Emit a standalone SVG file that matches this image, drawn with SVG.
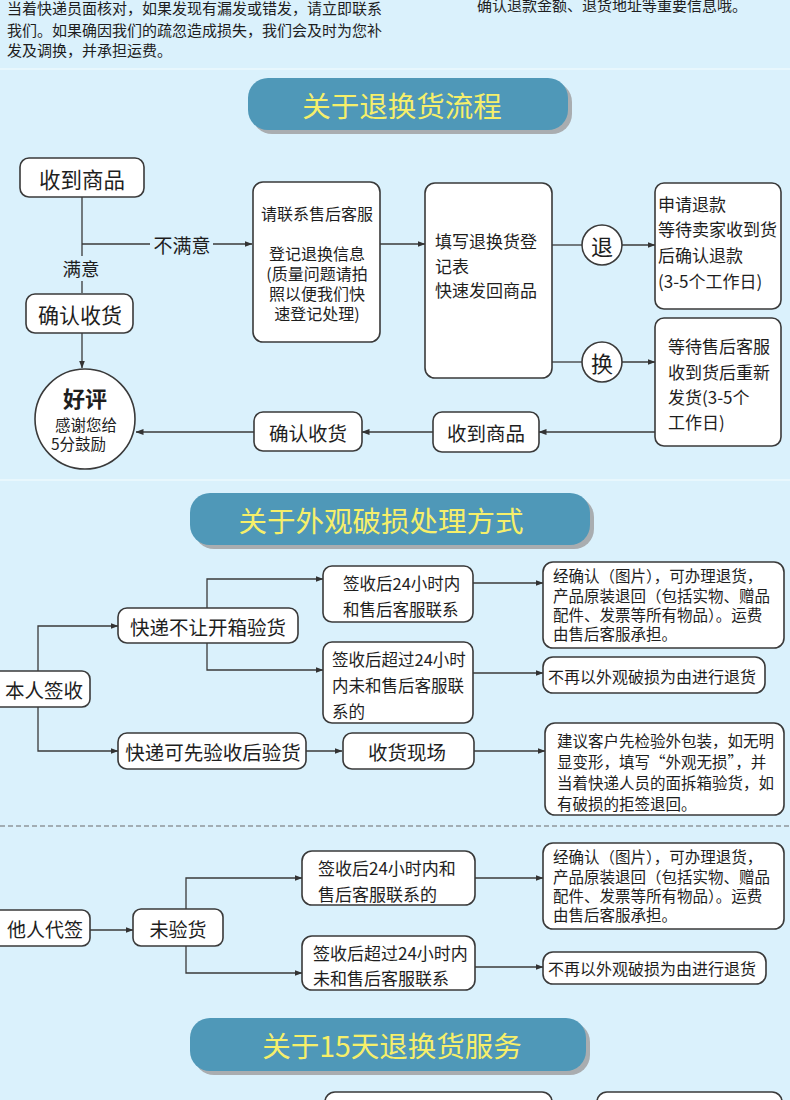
<svg xmlns="http://www.w3.org/2000/svg" width="790" height="1100" viewBox="0 0 790 1100">
<defs>
<marker id="ah" markerUnits="userSpaceOnUse" markerWidth="8" markerHeight="6" refX="7.5" refY="3" orient="auto">
<path d="M0,0 L8,3 L0,6 z" fill="#333"/>
</marker>
</defs>
<style>
.t{font-family:"Noto Sans CJK SC","Noto Sans",sans-serif;fill:#1e1e1e;dominant-baseline:central}
.c{text-anchor:middle}
.box{fill:#fff;stroke:#3a3a3a;stroke-width:1.6}
.ln{fill:none;stroke:#3a3a3a;stroke-width:1.3}
.arr{marker-end:url(#ah)}
.hd{fill:#4f98b8}
.hs{fill:#a9adb0}
.ht{font-family:"Noto Sans CJK SC","Noto Sans",sans-serif;fill:#f6ef6a;font-size:28.5px;text-anchor:middle;dominant-baseline:central}
</style>
<rect x="0" y="0" width="790" height="1100" fill="#daf1fc"/>
<line x1="0" y1="69" x2="790" y2="69" stroke="#e8f7fd" stroke-width="2"/>
<line x1="0" y1="480" x2="790" y2="480" stroke="#e8f7fd" stroke-width="2"/>

<g id="intro" class="t" font-size="15">
<text x="7" y="7">当着快递员面核对，如果发现有漏发或错发，请立即联系</text>
<text x="7" y="29">我们。如果确因我们的疏忽造成损失，我们会及时为您补</text>
<text x="7" y="49">发及调换，并承担运费。</text>
<text x="477" y="4">确认退款金额、退货地址等重要信息哦。</text>
</g>

<g id="header1">
<rect class="hs" x="252" y="82" width="320" height="52" rx="20"/>
<rect class="hd" x="248" y="78" width="320" height="52" rx="20"/>
<text class="ht" x="402" y="104">关于退换货流程</text>
</g>
<g id="header2">
<rect class="hs" x="194" y="497" width="400" height="52" rx="20"/>
<rect class="hd" x="190" y="493" width="400" height="52" rx="20"/>
<text class="ht" x="381" y="519">关于外观破损处理方式</text>
</g>
<g id="header3">
<rect class="hs" x="194" y="1022" width="396" height="53" rx="20"/>
<rect class="hd" x="190" y="1018" width="396" height="53" rx="20"/>
<text class="ht" x="392" y="1044">关于15天退换货服务</text>
</g>

<g id="connectors">
<path class="ln" d="M82 197 V256"/>
<path class="ln" d="M82 281 V293"/>
<path class="ln" d="M82 244 H150"/>
<path class="ln arr" d="M213 244 H252"/>
<path class="ln arr" d="M82 333 V368"/>
<path class="ln arr" d="M380 244 H425"/>
<path class="ln" d="M552 245 H582"/>
<path class="ln arr" d="M622 245 H655"/>
<path class="ln" d="M552 362 H582"/>
<path class="ln arr" d="M622 362 H655"/>
<path class="ln arr" d="M655 432 H539"/>
<path class="ln arr" d="M433 432 H362"/>
<path class="ln arr" d="M254 432 H136"/>

<path class="ln arr" d="M38 671 V626 H118"/>
<path class="ln arr" d="M38 707 V751 H118"/>
<path class="ln arr" d="M207 608 V579 H323"/>
<path class="ln arr" d="M207 643 V670 H323"/>
<path class="ln arr" d="M306 751 H342"/>
<path class="ln arr" d="M473 583 H543"/>
<path class="ln arr" d="M473 673 H543"/>
<path class="ln arr" d="M474 751 H545"/>

<path class="ln arr" d="M90 930 H133"/>
<path class="ln arr" d="M186 909 V878 H302"/>
<path class="ln arr" d="M186 946 V973 H302"/>
<path class="ln arr" d="M475 878 H543"/>
<path class="ln arr" d="M475 967 H543"/>
</g>
<line x1="0" y1="826" x2="790" y2="826" stroke="#6a6a6a" stroke-width="1.2" stroke-dasharray="5 3"/>

<g id="lbl-bumanyi" class="t" font-size="19"><text x="182" y="244" class="c">不满意</text></g>
<g id="lbl-manyi" class="t" font-size="18.5"><text x="81" y="268" class="c">满意</text></g>

<g id="n-shoudao1"><rect class="box" x="20" y="158" width="124" height="39" rx="9"/><text class="t c" x="82" y="178" font-size="21.5">收到商品</text></g>
<g id="n-queren1"><rect class="box" x="26" y="294" width="107" height="39" rx="9"/><text class="t c" x="80" y="314" font-size="21">确认收货</text></g>
<g id="n-haoping"><circle class="box" cx="85" cy="419" r="50"/>
<text class="t c" x="85" y="397" font-size="22" font-weight="bold">好评</text>
<text class="t c" x="86" y="424" font-size="15.5">感谢您给</text>
<text class="t" x="51" y="443" font-size="15.5">5分鼓励</text></g>
<g id="n-lianxi"><rect class="box" x="253" y="182" width="127" height="160" rx="10"/>
<g class="t c" font-size="16">
<text x="317" y="213">请联系售后客服</text>
<text x="317" y="253">登记退换信息</text>
<text x="317" y="273">(质量问题请拍</text>
<text x="317" y="293">照以便我们快</text>
<text x="317" y="313">速登记处理)</text>
</g></g>
<g id="n-tianxie"><rect class="box" x="425" y="183" width="127" height="195" rx="10"/>
<g class="t" font-size="17">
<text x="435" y="240">填写退换货登</text>
<text x="435" y="265">记表</text>
<text x="435" y="289">快速发回商品</text>
</g></g>
<g id="n-tui"><circle class="box" cx="602" cy="245" r="20"/><text class="t c" x="602" y="245" font-size="22">退</text></g>
<g id="n-huan"><circle class="box" cx="602" cy="362" r="20"/><text class="t c" x="602" y="362" font-size="22">换</text></g>
<g id="n-tuikuan"><rect class="box" x="655" y="183" width="126" height="126" rx="9"/>
<g class="t" font-size="17">
<text x="658" y="203">申请退款</text>
<text x="658" y="228">等待卖家收到货</text>
<text x="658" y="254">后确认退款</text>
<text x="658" y="280">(3-5个工作日)</text>
</g></g>
<g id="n-huanhuo"><rect class="box" x="655" y="318" width="126" height="128" rx="9"/>
<g class="t" font-size="17">
<text x="668" y="345">等待售后客服</text>
<text x="668" y="371">收到货后重新</text>
<text x="668" y="396">发货(3-5个</text>
<text x="668" y="421">工作日)</text>
</g></g>
<g id="n-shoudao2"><rect class="box" x="433" y="412" width="106" height="40" rx="9"/><text class="t c" x="486" y="432" font-size="19.5">收到商品</text></g>
<g id="n-queren2"><rect class="box" x="254" y="412" width="108" height="39" rx="9"/><text class="t c" x="308" y="432" font-size="19.5">确认收货</text></g>

<g id="n-benren"><rect class="box" x="-10" y="671" width="100" height="36" rx="8"/><text class="t" x="5" y="689" font-size="19.5">本人签收</text></g>
<g id="n-bukai"><rect class="box" x="118" y="608" width="180" height="35" rx="9"/><text class="t c" x="208" y="626" font-size="19.5">快递不让开箱验货</text></g>
<g id="n-24nei"><rect class="box" x="323" y="566" width="150" height="56" rx="9"/>
<g class="t" font-size="16.5"><text x="343" y="583">签收后24小时内</text><text x="343" y="609">和售后客服联系</text></g></g>
<g id="n-chao24"><rect class="box" x="323" y="642" width="150" height="81" rx="9"/>
<g class="t" font-size="16.5"><text x="332" y="659">签收后超过24小时</text><text x="332" y="685">内未和售后客服联</text><text x="332" y="711">系的</text></g></g>
<g id="n-kexian"><rect class="box" x="118" y="733" width="188" height="36" rx="9"/><text class="t c" x="213" y="751" font-size="19.5">快递可先验收后验货</text></g>
<g id="n-xianchang"><rect class="box" x="343" y="733" width="131" height="36" rx="9"/><text class="t c" x="407" y="751" font-size="19.5">收货现场</text></g>
<g id="n-jingqueren1"><rect class="box" x="543" y="562" width="241" height="86" rx="10"/>
<g class="t" font-size="15.5"><text x="553" y="575">经确认（图片），可办理退货，</text><text x="553" y="595">产品原装退回（包括实物、赠品</text><text x="553" y="614">配件、发票等所有物品）。运费</text><text x="553" y="633">由售后客服承担。</text></g></g>
<g id="n-buzai1"><rect class="box" x="543" y="657" width="222" height="36" rx="10"/><text class="t" x="548" y="676" font-size="16">不再以外观破损为由进行退货</text></g>
<g id="n-jianyi"><rect class="box" x="545" y="723" width="239" height="92" rx="10"/>
<g class="t" font-size="15.5"><text x="557" y="740">建议客户先检验外包装，如无明</text><text x="557" y="761">显变形，填写“外观无损”，并</text><text x="557" y="782">当着快递人员的面拆箱验货，如</text><text x="557" y="803">有破损的拒签退回。</text></g></g>

<g id="n-taren"><rect class="box" x="-10" y="910" width="100" height="36" rx="8"/><text class="t" x="7" y="928" font-size="19">他人代签</text></g>
<g id="n-weiyan"><rect class="box" x="133" y="909" width="90" height="37" rx="8"/><text class="t c" x="178" y="928" font-size="19">未验货</text></g>
<g id="n-24nei2"><rect class="box" x="302" y="851" width="173" height="54" rx="10"/>
<g class="t" font-size="17"><text x="318" y="867">签收后24小时内和</text><text x="318" y="893">售后客服联系的</text></g></g>
<g id="n-chao242"><rect class="box" x="302" y="936" width="173" height="54" rx="10"/>
<g class="t" font-size="17"><text x="313" y="952">签收后超过24小时内</text><text x="313" y="977">未和售后客服联系</text></g></g>
<g id="n-jingqueren2"><rect class="box" x="543" y="843" width="241" height="86" rx="10"/>
<g class="t" font-size="15.5"><text x="553" y="856">经确认（图片），可办理退货，</text><text x="553" y="876">产品原装退回（包括实物、赠品</text><text x="553" y="895">配件、发票等所有物品）。运费</text><text x="553" y="914">由售后客服承担。</text></g></g>
<g id="n-buzai2"><rect class="box" x="543" y="952" width="223" height="32" rx="10"/><text class="t" x="548" y="968" font-size="16">不再以外观破损为由进行退货</text></g>

<g id="n-bottom1"><rect class="box" x="325" y="1092" width="227" height="40" rx="10"/></g>
<g id="n-bottom2"><rect class="box" x="597" y="1092" width="185" height="40" rx="10"/></g>
</svg>
